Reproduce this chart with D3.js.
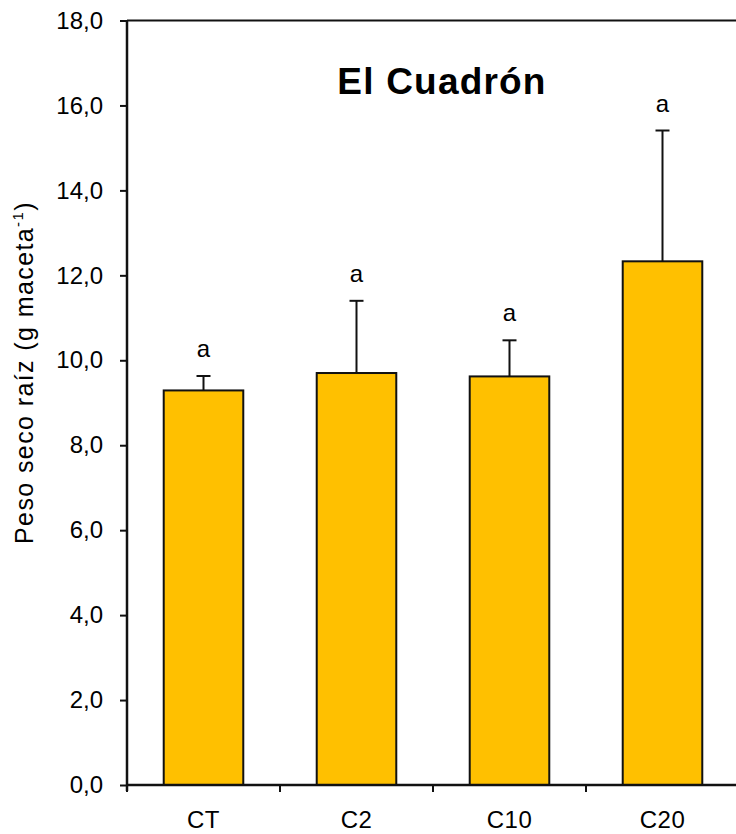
<!DOCTYPE html>
<html>
<head>
<meta charset="utf-8">
<script src="https://cdn.jsdelivr.net/npm/d3@7"></script>
<style>
  html, body { margin: 0; padding: 0; background: #fff; }
  svg { display: block; font-family: "Liberation Sans", Arial, sans-serif; }
</style>
</head>
<body>
<svg id="chart" width="736" height="834"></svg>
<script>
// Root dry weight per treatment (mean and standard deviation)
const categories = ["CT", "C2", "C10", "C20"];
const means = [9.29, 9.70, 9.62, 12.33];
const errors = [0.34, 1.70, 0.85, 3.08];
const letters = ["a", "a", "a", "a"];
const yTicks = [0, 2, 4, 6, 8, 10, 12, 14, 16, 18];

const svg = d3.select("#chart");
const plotLeft = 127, plotRight = 739, plotTop = 20.5, plotBottom = 785;

const x = d3.scaleBand().domain(categories).range([plotLeft, plotRight]).paddingInner(0.48).paddingOuter(0.24);
const y = d3.scaleLinear().domain([0, 18]).range([plotBottom, plotTop]);
const fmt = d => d.toFixed(1).replace(".", ",");

// frame top edge
svg.append("line")
  .attr("x1", plotLeft).attr("x2", plotRight).attr("y1", plotTop).attr("y2", plotTop)
  .attr("stroke", "#111").attr("stroke-width", 2);

// bars
svg.append("g").selectAll("rect").data(categories).join("rect")
  .attr("x", d => x(d))
  .attr("y", (d, i) => y(means[i]))
  .attr("width", x.bandwidth())
  .attr("height", (d, i) => y(0) - y(means[i]))
  .attr("fill", "#FFC000")
  .attr("stroke", "#111").attr("stroke-width", 2);

// error bars (upper only)
const eg = svg.append("g").attr("stroke", "#111").attr("stroke-width", 2);
categories.forEach((c, i) => {
  const cx = x(c) + x.bandwidth() / 2;
  eg.append("line").attr("x1", cx).attr("x2", cx)
    .attr("y1", y(means[i])).attr("y2", y(means[i] + errors[i]));
  eg.append("line").attr("x1", cx - 7).attr("x2", cx + 7)
    .attr("y1", y(means[i] + errors[i])).attr("y2", y(means[i] + errors[i]));
});

// significance letters
svg.append("g").selectAll("text").data(categories).join("text")
  .attr("x", d => x(d) + x.bandwidth() / 2)
  .attr("y", (d, i) => y(means[i] + errors[i]) - 19)
  .attr("text-anchor", "middle")
  .attr("font-size", 24).attr("fill", "#000")
  .text((d, i) => letters[i]);

// y axis
const yAxis = svg.append("g").attr("transform", `translate(${plotLeft},0)`)
  .call(d3.axisLeft(y).tickValues(yTicks).tickFormat(fmt).tickSize(7).tickPadding(17));
yAxis.select(".domain").attr("stroke", "#111").attr("stroke-width", 2.5)
  .attr("d", `M0,${plotTop}V${plotBottom + 6}`);
yAxis.selectAll(".tick line").attr("stroke", "#111").attr("stroke-width", 2);
yAxis.selectAll(".tick text").attr("font-size", 24).attr("fill", "#000")
  .attr("font-family", "Liberation Sans, Arial, sans-serif");

// x axis with ticks between categories
const xAxis = svg.append("g").attr("transform", `translate(0,${plotBottom})`);
xAxis.append("line").attr("x1", plotLeft).attr("x2", plotRight).attr("y1", 0).attr("y2", 0)
  .attr("stroke", "#111").attr("stroke-width", 2.5);
const boundaries = d3.range(categories.length + 1).map(k => plotLeft + k * (plotRight - plotLeft) / categories.length);
xAxis.selectAll("line.tk").data(boundaries).join("line").attr("class", "tk")
  .attr("x1", d => d).attr("x2", d => d).attr("y1", 0).attr("y2", 7)
  .attr("stroke", "#111").attr("stroke-width", 2);
xAxis.selectAll("text").data(categories).join("text")
  .attr("x", d => x(d) + x.bandwidth() / 2)
  .attr("y", 43)
  .attr("text-anchor", "middle")
  .attr("font-size", 24).attr("letter-spacing", 0.5).attr("fill", "#000")
  .text(d => d);

// title
svg.append("text").attr("x", 442).attr("y", 94)
  .attr("text-anchor", "middle").attr("font-weight", "bold")
  .attr("font-size", 37).attr("letter-spacing", 1.2).attr("fill", "#000")
  .text("El Cuadrón");

// y axis title
const yt = svg.append("text")
  .attr("transform", `translate(33,${(198 + 547) / 2}) rotate(-90)`)
  .attr("text-anchor", "middle").attr("font-size", 25).attr("letter-spacing", 1.4).attr("fill", "#000");
yt.append("tspan").text("Peso seco raíz (g maceta");
yt.append("tspan").attr("font-size", 15).attr("dy", -10).text("-1");
yt.append("tspan").attr("dy", 10).text(")");
</script>
</body>
</html>
